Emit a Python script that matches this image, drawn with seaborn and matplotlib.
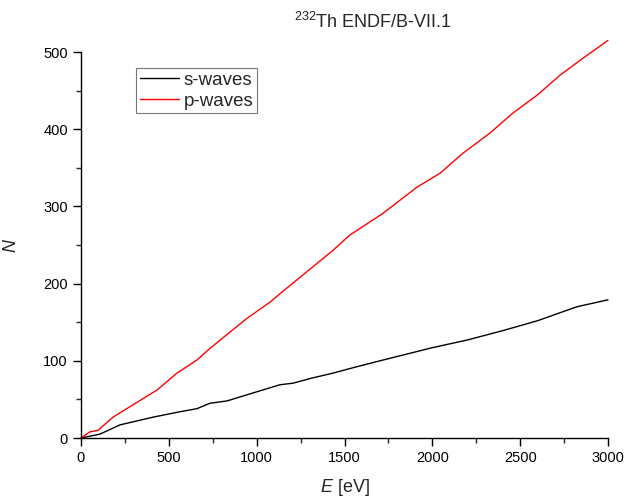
import matplotlib
matplotlib.use("Agg")
import matplotlib.pyplot as plt
from matplotlib.ticker import MultipleLocator
import seaborn as sns
import pandas as pd
import numpy as np

# cumulative level counts
e_s = [0, 108, 222, 410, 563, 660, 734, 831, 945, 1133, 1207, 1321, 1434, 1548,
       1702, 2000, 2200, 2400, 2600, 2823, 3000]
n_s = [0, 5, 17, 27, 34, 38, 45, 48, 56, 69, 71, 78, 84, 91,
       100, 117, 127, 139, 152, 170, 179]

e_p = [0, 51, 97, 182, 296, 432, 546, 660, 734, 820, 945, 1076, 1144, 1230, 1321,
       1434, 1531, 1719, 1913, 2044, 2175, 2328, 2459, 2596, 2727, 2858, 3000]
n_p = [0, 8, 10, 27, 43, 62, 84, 101, 116, 132, 155, 176, 189, 205, 222,
       243, 263, 291, 325, 343, 369, 395, 421, 444, 470, 492, 515]

series_names = ['s-waves', 'p-waves']
series_colors = ['black', 'red']

df = pd.concat([
    pd.DataFrame({'E': e_s, 'N': n_s, 'wave': series_names[0]}),
    pd.DataFrame({'E': e_p, 'N': n_p, 'wave': series_names[1]}),
])

sns.set_style('ticks')
plt.rcParams['font.family'] = ['Liberation Sans', 'DejaVu Sans']
plt.rcParams['mathtext.fontset'] = 'custom'
plt.rcParams['mathtext.rm'] = 'Liberation Sans'
plt.rcParams['mathtext.it'] = 'Liberation Sans:italic'

fig = plt.figure(figsize=(6.26, 4.98), dpi=100)
ax = fig.add_axes([81 / 626, 1 - 438 / 498, 527 / 626, 386 / 498])

sns.lineplot(data=df, x='E', y='N', hue='wave', palette=series_colors,
             linewidth=1.0, ax=ax, clip_on=False, estimator=None, sort=False)

ax.set_xlim(0, 3000)
ax.set_ylim(0, 500)
ax.xaxis.set_major_locator(MultipleLocator(500))
ax.xaxis.set_minor_locator(MultipleLocator(250))
ax.yaxis.set_major_locator(MultipleLocator(100))
ax.yaxis.set_minor_locator(MultipleLocator(50))
ax.tick_params(which='major', length=6, width=1, labelsize=10.5, colors='black')
ax.tick_params(which='minor', length=3.5, width=1)
for s in ['left', 'bottom']:
    ax.spines[s].set_linewidth(1)
    ax.spines[s].set_color('black')
sns.despine(ax=ax)

ax.set_xlabel('$E$ [eV]', fontsize=13)
ax.set_ylabel('$N$', fontsize=13)
ax.xaxis.set_label_coords(0.5, -0.1)
ax.yaxis.set_label_coords(-0.115, 0.5)

leg = ax.legend(loc='upper left', bbox_to_anchor=(55 / 527, (386 - 16) / 386),
                fontsize=13.5, frameon=True, fancybox=False, borderpad=0.2,
                handlelength=2.1, handletextpad=0.25, labelspacing=0.2,
                borderaxespad=0)
leg.get_frame().set_edgecolor('#555555')
leg.get_frame().set_linewidth(0.8)

fig.text(373 / 626, 1 - 22 / 498, '$^{232}$Th ENDF/B-VII.1', ha='center', va='center',
         fontsize=13)

fig.savefig('out.png', dpi=100)
